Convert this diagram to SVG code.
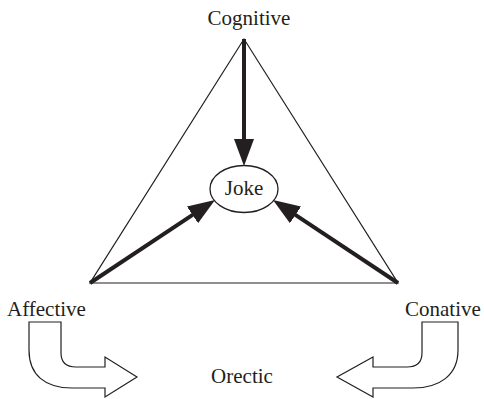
<svg xmlns="http://www.w3.org/2000/svg" width="484" height="399" viewBox="0 0 484 399">
  <style>
    .lbl { font-family: "Liberation Serif", "Times New Roman", serif; font-size: 21px; fill: #231f20; }
    .thin { fill: none; stroke: #231f20; stroke-width: 1.2; }
    .thick { fill: none; stroke: #231f20; stroke-width: 4; marker-end: url(#head); }
    .bend { fill: #ffffff; stroke: #231f20; stroke-width: 1.2; stroke-linejoin: miter; }
  </style>
  <defs>
    <marker id="head" markerUnits="userSpaceOnUse" viewBox="0 0 27 20" markerWidth="27" markerHeight="20" refX="6" refY="10" orient="auto">
      <path d="M0,0 L27,10 L0,20 Z" fill="#231f20"/>
    </marker>
  </defs>

  <rect width="484" height="399" fill="#ffffff"/>

  <!-- triangle frame -->
  <g id="frame">
    <polygon class="thin" points="244,39 90,283 398,283"/>
  </g>

  <!-- centre node -->
  <g id="joke">
    <ellipse cx="244" cy="189" rx="34" ry="23.5" fill="#ffffff" stroke="#231f20" stroke-width="1.3"/>
    <text class="lbl" x="244" y="195" text-anchor="middle">Joke</text>
  </g>

  <!-- thick arrows into the centre -->
  <g id="connectors">
    <line class="thick" x1="244" y1="39" x2="244" y2="145"/>
    <line class="thick" x1="90" y1="283" x2="197.5" y2="211.6"/>
    <line class="thick" x1="398" y1="283" x2="290.5" y2="211.6"/>
  </g>

  <!-- bent block arrows toward the bottom label -->
  <g id="affective-bend">
    <path class="bend" d="M29,322 H61 V353 Q61,367 76,367 H105 V357 L137,377 L105,397 V388 H72 C45,388 29,375 29,350 Z"/>
  </g>
  <g id="conative-bend">
    <path class="bend" d="M458,322 H422 V353 Q422,367 407,367 H373 V357 L337,377 L373,397 V388 H413 C440,388 458,375 458,350 Z"/>
  </g>

  <!-- corner labels -->
  <g id="cognitive">
    <text class="lbl" x="249" y="25" text-anchor="middle">Cognitive</text>
  </g>
  <g id="affective">
    <text class="lbl" x="7" y="316">Affective</text>
  </g>
  <g id="conative">
    <text class="lbl" x="405" y="316">Conative</text>
  </g>
  <g id="orectic">
    <text class="lbl" x="242" y="383" text-anchor="middle">Orectic</text>
  </g>
</svg>
